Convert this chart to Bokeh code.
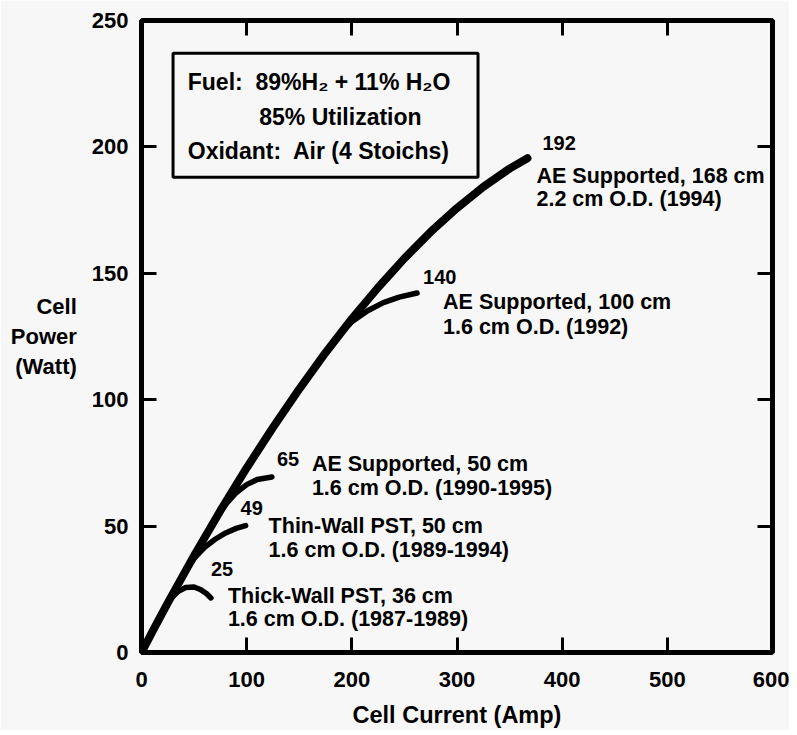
from bokeh.plotting import figure
from bokeh.models import LinearAxis, BoxAnnotation, Label, FixedTicker, Range1d
from bokeh.embed import file_html
from bokeh.resources import INLINE

FONT = "Liberation Sans"
BG = "#f7f7f7"
NB = "\u00a0"

# ---------------- data ----------------
x_ticks = [0, 100, 200, 300, 400, 500, 600]
y_ticks = [0, 50, 100, 150, 200, 250]

# AE Supported, 168 cm, 2.2 cm O.D. (1994) - envelope curve
main_I = [0, 12, 25, 50, 75, 100, 125, 150, 175, 200, 225, 250, 275, 300, 325, 350, 367]
main_P = [0, 9.5, 19.6, 38.3, 56.1, 73.0, 89.0, 104.2, 118.6, 132.0, 144.4, 155.9, 166.4, 175.8, 184.2, 191.4, 195.5]

# AE Supported, 100 cm, 1.6 cm O.D. (1992)
ae100_I = [180, 190, 200, 215, 230, 245, 262]
ae100_P = [121.3, 126.5, 130.8, 135.2, 138.4, 140.6, 142.2]

# AE Supported, 50 cm, 1.6 cm O.D. (1990-1995)
ae50_I = [70, 80, 90, 100, 110, 124]
ae50_P = [52.6, 58.6, 63.2, 66.4, 68.4, 69.4]

# Thin-Wall PST, 50 cm, 1.6 cm O.D. (1989-1994)
thin_I = [40, 50, 60, 70, 80, 90, 99]
thin_P = [30.8, 37.2, 41.6, 44.8, 47.3, 49.1, 50.2]

# Thick-Wall PST, 36 cm, 1.6 cm O.D. (1987-1989)
thick_I = [22, 28, 35, 42, 50, 56, 62, 66]
thick_P = [17.3, 21.4, 24.2, 25.7, 25.9, 24.9, 23.2, 21.6]

peak_labels = ["192", "140", "65", "49", "25"]
desc_line1 = ["AE Supported, 168 cm", "AE Supported, 100 cm", "AE Supported, 50 cm",
              "Thin-Wall PST, 50 cm", "Thick-Wall PST, 36 cm"]
desc_line2 = ["2.2 cm O.D. (1994)", "1.6 cm O.D. (1992)", "1.6 cm O.D. (1990-1995)",
              "1.6 cm O.D. (1989-1994)", "1.6 cm O.D. (1987-1989)"]

legend_lines = ["Fuel:" + NB + " 89%H\u2082 + 11% H\u2082O", "85% Utilization",
                "Oxidant:" + NB + " Air (4 Stoichs)"]

x_title = "Cell Current (Amp)"
y_title = "Cell\nPower\n(Watt)"

# ---------------- figure ----------------
p = figure(width=789, height=730, x_range=Range1d(0, 600), y_range=Range1d(0, 250),
           output_backend="svg", toolbar_location=None,
           min_border_left=141, min_border_right=17, min_border_top=20, min_border_bottom=70)
p.background_fill_color = BG
p.border_fill_color = BG
p.outline_line_color = "black"
p.outline_line_width = 5
p.xgrid.visible = False
p.ygrid.visible = False

def style_axis(ax, ticks, labels=True, standoff=16):
    ax.ticker = FixedTicker(ticks=ticks)
    ax.axis_line_color = None
    ax.major_tick_in = 15
    ax.major_tick_out = 0
    ax.major_tick_line_width = 3
    ax.major_tick_line_color = "black"
    ax.minor_tick_line_color = None
    if labels:
        ax.major_label_text_font = FONT
        ax.major_label_text_font_style = "bold"
        ax.major_label_text_font_size = "22px"
        ax.major_label_text_color = "black"
        ax.major_label_standoff = standoff
    else:
        ax.major_label_overrides = {t: "" for t in ticks}
        ax.major_label_text_font_size = "1px"
        ax.major_label_standoff = 0

style_axis(p.xaxis[0], x_ticks, standoff=19)
style_axis(p.yaxis[0], y_ticks, standoff=13)
for ax, title, size in [(p.xaxis[0], x_title, "23.5px"), (p.yaxis[0], y_title, "22px")]:
    ax.axis_label = title
    ax.axis_label_text_font = FONT
    ax.axis_label_text_font_style = "bold"
    ax.axis_label_text_font_size = size
    ax.axis_label_text_color = "black"
p.xaxis[0].axis_label_standoff = 12
p.yaxis[0].axis_label_standoff = 12
p.yaxis[0].axis_label_text_align = "center"
if "axis_label_orientation" in LinearAxis.properties():
    p.yaxis[0].axis_label_orientation = "horizontal"

top_ax = LinearAxis()
right_ax = LinearAxis()
style_axis(top_ax, x_ticks, labels=False)
style_axis(right_ax, y_ticks, labels=False)
p.add_layout(top_ax, "above")
p.add_layout(right_ax, "right")

# ---------------- curves ----------------
p.line(main_I, main_P, line_width=8, line_color="black", line_cap="round", line_join="round")
for xs, ys in [(ae100_I, ae100_P), (ae50_I, ae50_P), (thin_I, thin_P), (thick_I, thick_P)]:
    p.line(xs, ys, line_width=5.5, line_color="black", line_cap="round", line_join="round")

ends = [(main_I[-1], main_P[-1]), (ae100_I[-1], ae100_P[-1]), (ae50_I[-1], ae50_P[-1]),
        (thin_I[-1], thin_P[-1]), (thick_I[-1], thick_P[-1])]
# label offsets in screen pixels relative to the curve ends
num_off = [(15, 15), (6, 16), (5, 18), (-5, 18), (0, 29)]
desc_off = [(9, -18, -41), (26, -9, -34), (40, 13, -11), (23, 0, -24), (17, 2, -21)]

def add_label(x, y, xo, yo, t, size):
    p.add_layout(Label(x=x, y=y, x_offset=xo, y_offset=yo, text=t,
                       text_font=FONT, text_font_style="bold", text_font_size=size,
                       text_color="black", text_baseline="middle", text_align="left"))

for (ex, ey), lab, d1, d2, no, do in zip(ends, peak_labels, desc_line1, desc_line2, num_off, desc_off):
    add_label(ex, ey, no[0], no[1], lab, "20px")
    add_label(ex, ey, do[0], do[1], d1, "21.5px")
    add_label(ex, ey, do[0], do[2], d2, "21.5px")

# ---------------- condition box ----------------
p.add_layout(BoxAnnotation(left=30, right=320, bottom=188, top=237,
                           fill_color=None, fill_alpha=0, line_color="black",
                           line_alpha=1, line_width=3))
legend_pos = [(44, 225.8), (112, 212.0), (44, 198.2)]
for (lx, ly), t in zip(legend_pos, legend_lines):
    add_label(lx, ly, 0, 0, t, "23px")

open("out.html", "w").write(file_html(p, INLINE))
